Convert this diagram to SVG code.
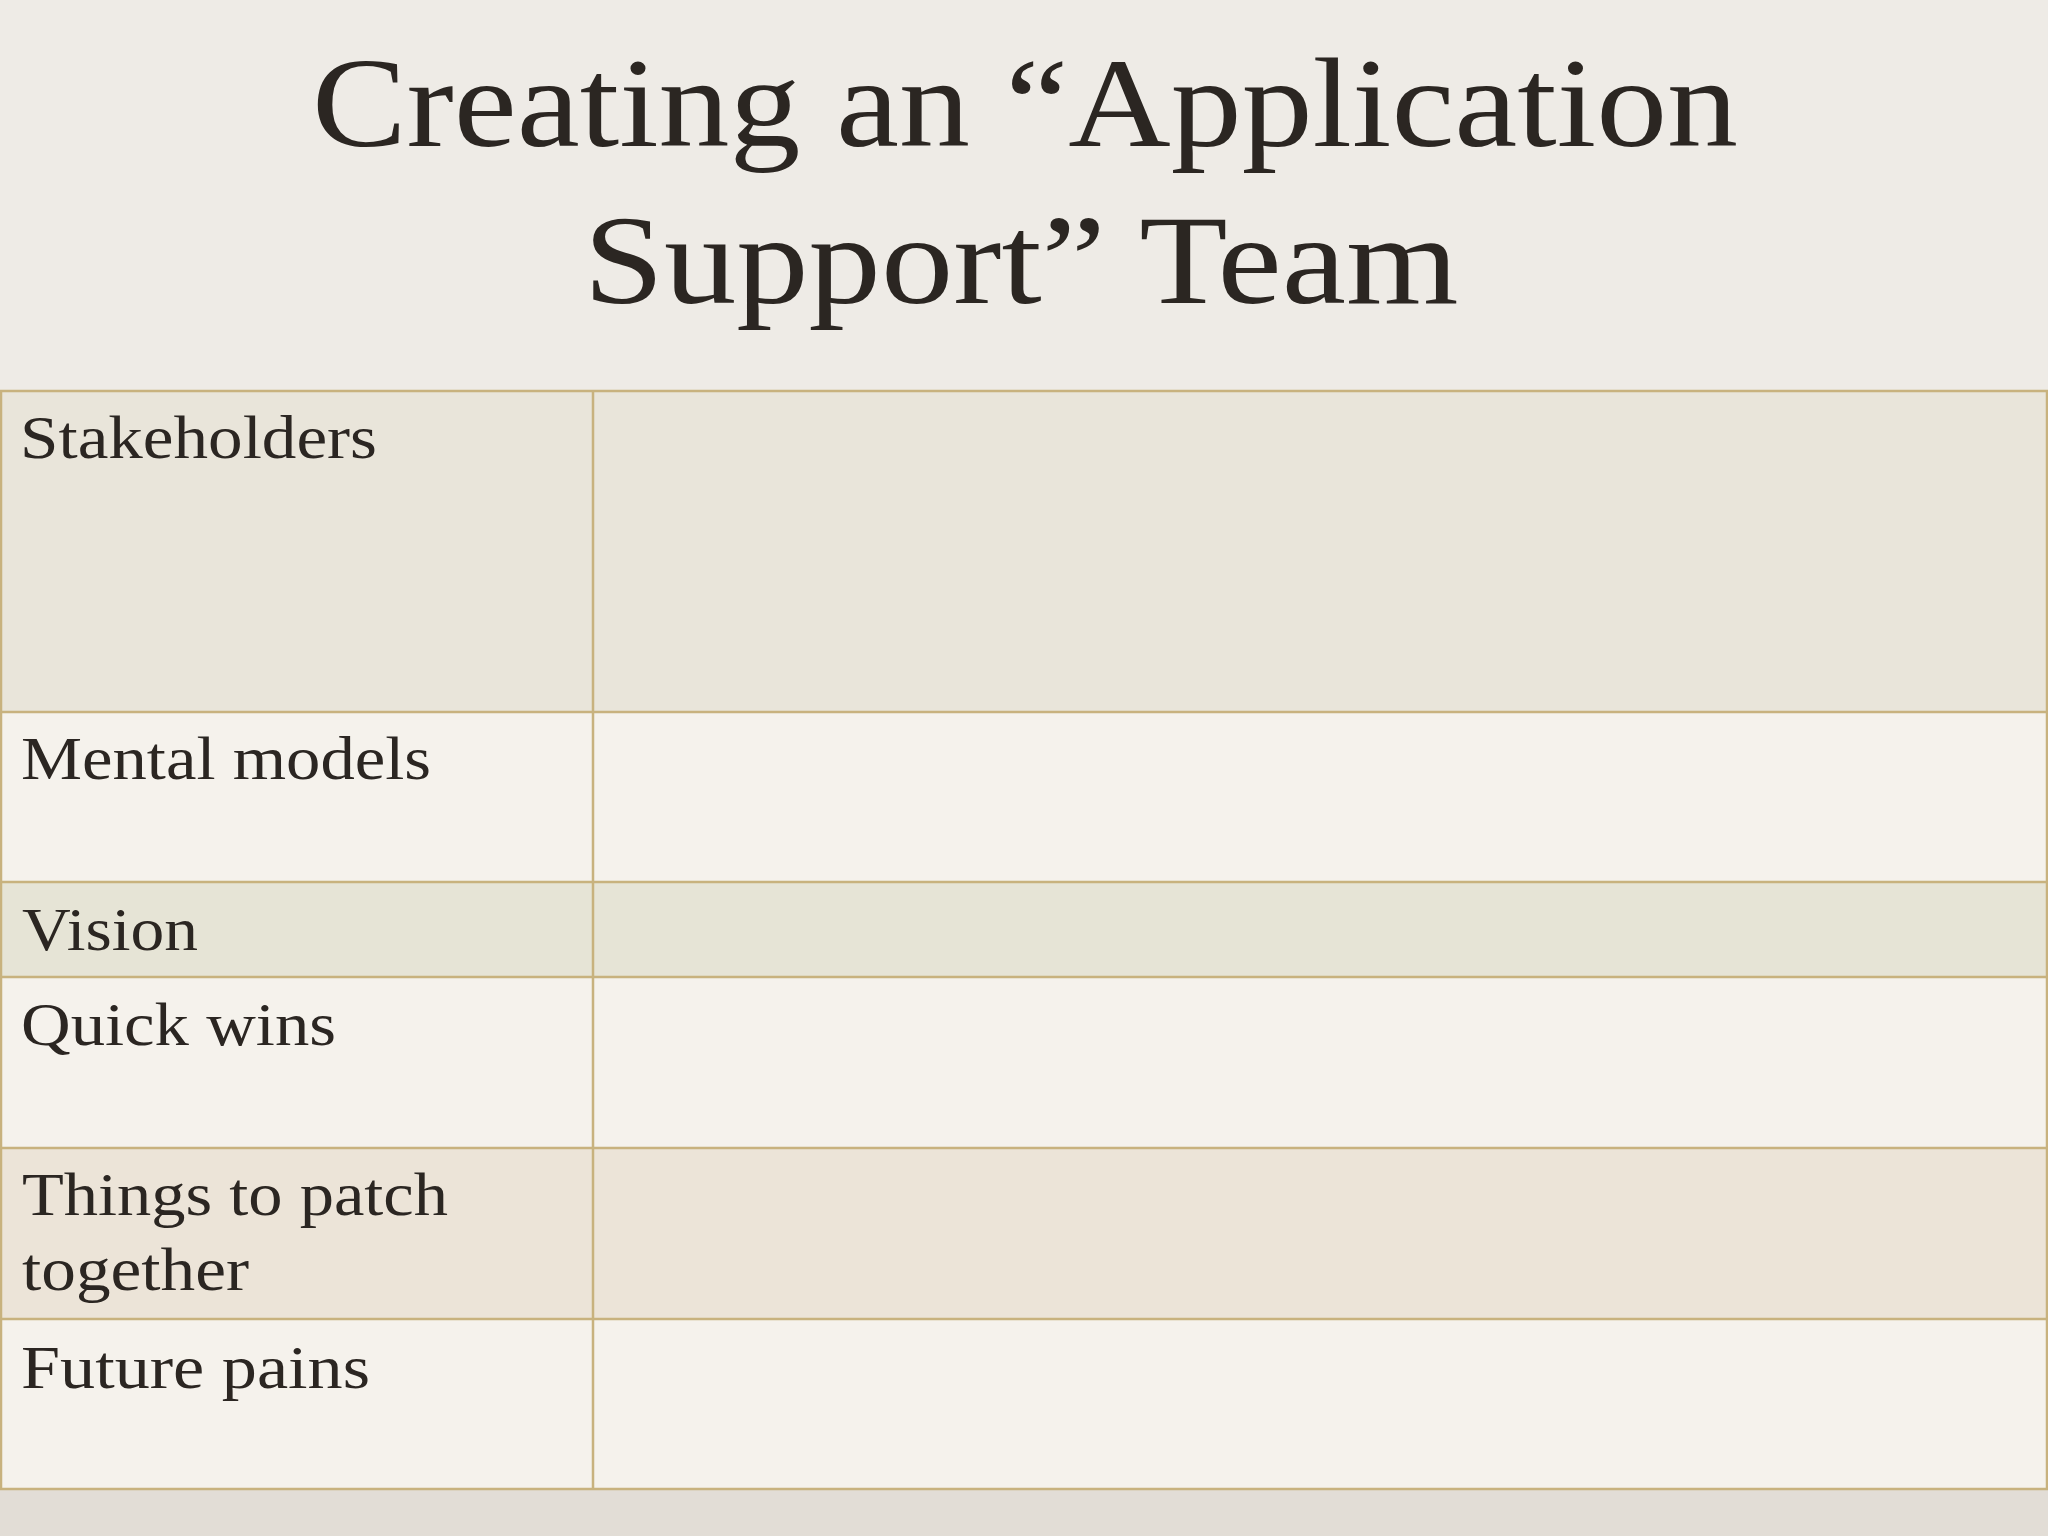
<svg xmlns="http://www.w3.org/2000/svg" width="2048" height="1536" viewBox="0 0 2048 1536">
<style>
.t{font-family:"Liberation Serif","DejaVu Serif",serif;fill:#2b2622}
.title{font-size:128px;text-anchor:middle}
.lbl{font-size:62px}
.ln{stroke:#c8b27e;stroke-width:2.5;fill:none}
</style>
<rect width="2048" height="1536" fill="#eeebe6"/>
<rect y="1489" width="2048" height="47" fill="#e2ddd6"/>
<g id="title">
<text class="t title" x="1025" y="146" textLength="1426" lengthAdjust="spacingAndGlyphs">Creating an “Application</text>
<text class="t title" x="1021" y="303" textLength="875" lengthAdjust="spacingAndGlyphs">Support” Team</text>
</g>
<g id="table">
<rect x="0" y="391" width="2048" height="321" fill="#e9e5da"/>
<rect x="0" y="712" width="2048" height="170" fill="#f5f2ec"/>
<rect x="0" y="882" width="2048" height="95" fill="#e6e4d6"/>
<rect x="0" y="977" width="2048" height="171" fill="#f5f2ec"/>
<rect x="0" y="1148" width="2048" height="171" fill="#ece4d8"/>
<rect x="0" y="1319" width="2048" height="170" fill="#f5f2ec"/>
<g class="ln">
<rect x="1" y="391" width="2046" height="1098"/>
<line x1="593" y1="391" x2="593" y2="1489"/>
<line x1="0" y1="712" x2="2048" y2="712"/>
<line x1="0" y1="882" x2="2048" y2="882"/>
<line x1="0" y1="977" x2="2048" y2="977"/>
<line x1="0" y1="1148" x2="2048" y2="1148"/>
<line x1="0" y1="1319" x2="2048" y2="1319"/>
</g>
<text class="t lbl" x="20" y="458" textLength="357" lengthAdjust="spacingAndGlyphs">Stakeholders</text>
<text class="t lbl" x="21" y="779" textLength="410" lengthAdjust="spacingAndGlyphs">Mental models</text>
<text class="t lbl" x="22" y="950" textLength="176" lengthAdjust="spacingAndGlyphs">Vision</text>
<text class="t lbl" x="21" y="1045" textLength="315" lengthAdjust="spacingAndGlyphs">Quick wins</text>
<text class="t lbl" x="22" y="1215" textLength="426" lengthAdjust="spacingAndGlyphs">Things to patch</text>
<text class="t lbl" x="22" y="1290" textLength="227" lengthAdjust="spacingAndGlyphs">together</text>
<text class="t lbl" x="21" y="1388" textLength="349" lengthAdjust="spacingAndGlyphs">Future pains</text>
</g>
</svg>
